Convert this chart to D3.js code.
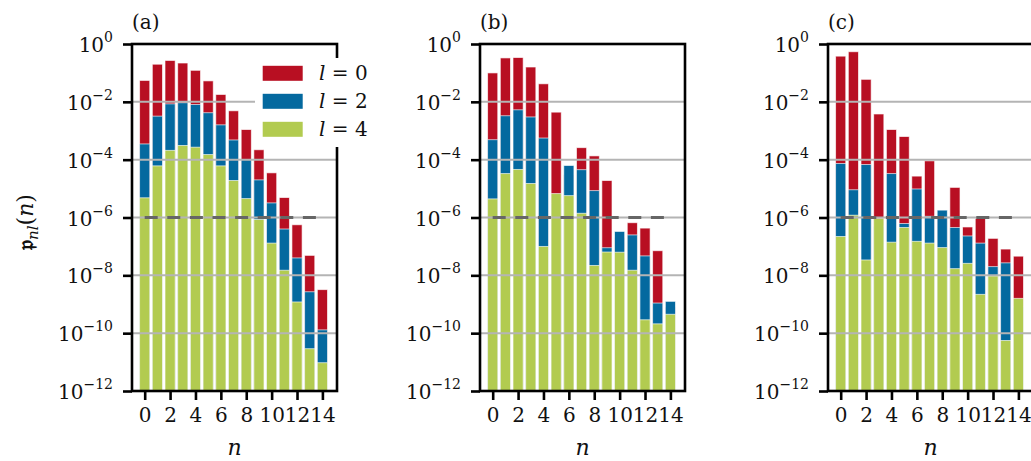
<!DOCTYPE html>
<html>
<head>
<meta charset="utf-8">
<script src="https://cdn.jsdelivr.net/npm/d3@7"></script>
<style>
  html, body { margin: 0; padding: 0; background: #fff; }
  svg { display: block; }
  svg text { font-family: "DejaVu Serif", "Liberation Serif", serif !important; fill: #111; }
</style>
</head>
<body>
<svg id="chart" width="1031" height="461"></svg>
<script>
// Occupation probabilities p_nl(n) for l = 0, 2, 4, three cases (a)-(c)
const nValues = d3.range(15);
const xTickValues = [0, 2, 4, 6, 8, 10, 12, 14];
const yTickExponents = [0, -2, -4, -6, -8, -10, -12];
const gridExponents = [-2, -4, -6, -8, -10];
const panelLabels = ["(a)", "(b)", "(c)"];
const threshold = 1e-6;
const legendLabels = ["0", "2", "4"];

const a_l0 = [5.5e-2, 0.20, 0.27, 0.22, 0.123, 5.3e-2, 1.8e-2, 4.9e-3, 1.1e-3, 2.2e-4, 3.5e-5, 4.9e-6, 5.6e-7, 4.9e-8, 3.2e-9];
const a_l2 = [3.5e-4, 3.2e-3, 8.5e-3, 9.3e-3, 8.1e-3, 4.2e-3, 1.6e-3, 4.8e-4, 1.0e-4, 2.0e-5, 3.2e-6, 4.0e-7, 4.0e-8, 2.7e-9, 1.3e-10];
const a_l4 = [4.8e-6, 6.1e-5, 2.1e-4, 3.1e-4, 2.7e-4, 1.5e-4, 6.1e-5, 1.9e-5, 4.5e-6, 8.5e-7, 1.3e-7, 1.5e-8, 1.2e-9, 2.9e-11, 9.5e-12];

const b_l0 = [0.10, 0.33, 0.34, 0.16, 4.2e-2, 4.4e-3, 3e-5, 2.6e-4, 1.35e-4, 1.9e-5, 2e-7, 6.6e-7, 4.3e-7, 7.1e-8, 8e-10];
const b_l2 = [4.9e-4, 3.3e-3, 5.3e-3, 3.0e-3, 5.6e-4, 3e-6, 6.3e-5, 4.5e-5, 8.5e-6, 9e-8, 3.3e-7, 2.5e-7, 4.7e-8, 1.1e-9, 1.26e-9];
const b_l4 = [4.4e-6, 3.3e-5, 4.6e-5, 1.5e-5, 1.0e-7, 6.7e-6, 5.7e-6, 1.4e-6, 2.2e-8, 6.4e-8, 6.3e-8, 1.5e-8, 2.9e-10, 2.1e-10, 4.5e-10];

const c_l0 = [0.38, 0.54, 6e-2, 3.8e-3, 1.1e-3, 6.3e-4, 2.7e-5, 9.1e-5, 1e-6, 1.1e-5, 4.7e-7, 9.2e-7, 1.9e-7, 8.1e-8, 4.6e-8];
const c_l2 = [7.4e-5, 9.1e-6, 6.8e-5, 5e-7, 3.3e-5, 6.2e-7, 9.7e-6, 1.1e-6, 1.8e-6, 4.5e-7, 2.3e-7, 1.3e-7, 2.0e-8, 2.7e-8, 8e-10];
const c_l4 = [2.2e-7, 1.2e-6, 3.4e-8, 9.2e-7, 1.4e-7, 4.5e-7, 1.5e-7, 1.3e-7, 9.1e-8, 1.7e-8, 2.6e-8, 2.2e-9, 9.5e-9, 5.6e-11, 1.6e-9];

const panels = [
  { label: panelLabels[0], series: [a_l0, a_l2, a_l4], legend: true },
  { label: panelLabels[1], series: [b_l0, b_l2, b_l4], legend: false },
  { label: panelLabels[2], series: [c_l0, c_l2, c_l4], legend: false }
];

const colors = ["#b80f22", "#04699f", "#b2cb50"];
const serif = "DejaVu Serif";

const svg = d3.select("#chart");
const fontSize = 20;
const panelLefts = [132, 480, 828];
const plotTop = 44, plotW = 205, plotH = 347;

const y = d3.scaleLog().domain([1e-12, 1]).range([plotTop + plotH, plotTop]);

panels.forEach((p, i) => {
  const left = panelLefts[i];
  const x = d3.scaleLinear().domain([-1, 15.15]).range([left, left + plotW]);
  const g = svg.append("g");

  const clipId = "clip" + i;
  svg.append("clipPath").attr("id", clipId)
    .append("rect").attr("x", left).attr("y", plotTop).attr("width", plotW).attr("height", plotH);

  const plot = g.append("g").attr("clip-path", `url(#${clipId})`);
  const barW = x(0.4) - x(-0.4);

  // overlaid bars: l=0 behind, l=4 in front
  p.series.forEach((vals, k) => {
    plot.append("g").selectAll("rect")
      .data(vals)
      .join("rect")
      .attr("x", (d, j) => x(nValues[j]) - barW / 2)
      .attr("y", d => y(d))
      .attr("width", barW)
      .attr("height", d => y(1e-12) - y(d) + 5)
      .attr("fill", colors[k])
      .attr("stroke", "#ffffff")
      .attr("stroke-opacity", 0.7)
      .attr("stroke-width", 0.9);
  });

  // horizontal grid
  plot.append("g").selectAll("line")
    .data(gridExponents)
    .join("line")
    .attr("x1", left).attr("x2", left + plotW)
    .attr("y1", e => y(Math.pow(10, e))).attr("y2", e => y(Math.pow(10, e)))
    .attr("stroke", "#b4b4b4")
    .attr("stroke-width", 2);

  // threshold line
  plot.append("line")
    .attr("x1", x(0)).attr("x2", x(14))
    .attr("y1", y(threshold)).attr("y2", y(threshold))
    .attr("stroke", "#666666")
    .attr("stroke-width", 3)
    .attr("stroke-dasharray", "13,9.6");

  // axes
  const yAxis = d3.axisLeft(y)
    .tickValues(yTickExponents.map(e => Math.pow(10, e)))
    .tickSize(9)
    .tickFormat("");
  const yg = g.append("g").attr("transform", `translate(${left},0)`).call(yAxis);
  yg.select(".domain").remove();
  yg.selectAll(".tick line").attr("stroke", "#000").attr("stroke-width", 2.6);

  const yLab = g.append("g").selectAll("text")
    .data(yTickExponents)
    .join("text")
    .attr("x", left - 19)
    .attr("y", e => y(Math.pow(10, e)) + 8)
    .attr("text-anchor", "end")
    .attr("font-family", serif)
    .attr("font-size", fontSize);
  yLab.append("tspan").text("10");
  yLab.append("tspan")
    .attr("dy", -10)
    .attr("font-size", 14)
    .text(e => e === 0 ? "0" : "\u2212" + Math.abs(e));

  const xAxis = d3.axisBottom(x)
    .tickValues(xTickValues)
    .tickSize(9)
    .tickPadding(8)
    .tickFormat(d3.format("d"));
  const xg = g.append("g").attr("transform", `translate(0,${plotTop + plotH})`).call(xAxis);
  xg.attr("font-family", serif);
  xg.select(".domain").remove();
  xg.selectAll(".tick line").attr("stroke", "#000").attr("stroke-width", 2.6);
  xg.selectAll(".tick text")
    .attr("font-size", fontSize)
    .attr("font-family", serif)
    .attr("fill", "#111");

  // frame
  g.append("rect")
    .attr("x", left).attr("y", plotTop)
    .attr("width", plotW).attr("height", plotH)
    .attr("fill", "none")
    .attr("stroke", "#000")
    .attr("stroke-width", 2.6);

  // panel label
  g.append("text")
    .attr("x", left)
    .attr("y", 29)
    .attr("font-family", serif)
    .attr("font-size", fontSize)
    .text(p.label);

  // x label
  g.append("text")
    .attr("x", left + plotW / 2)
    .attr("y", 455)
    .attr("text-anchor", "middle")
    .attr("font-family", serif)
    .attr("font-size", fontSize + 2)
    .attr("font-style", "italic")
    .text("n");

  if (p.legend) {
    const lg = g.append("g");
    lg.append("rect")
      .attr("x", 255).attr("y", 58)
      .attr("width", 118).attr("height", 89)
      .attr("fill", "#fff");
    const rows = lg.selectAll("g.row")
      .data(legendLabels)
      .join("g")
      .attr("class", "row")
      .attr("transform", (d, k) => `translate(0,${73.3 + k * 28})`);
    rows.append("rect")
      .attr("x", 262.7).attr("y", -7.5)
      .attr("width", 40).attr("height", 15)
      .attr("fill", (d, k) => colors[k]);
    const t = rows.append("text")
      .attr("x", 319)
      .attr("y", 7)
      .attr("font-family", serif)
      .attr("font-size", fontSize);
    t.append("tspan").attr("font-style", "italic").text("l");
    t.append("tspan").text(d => " = " + d);
  }
});

// shared y label
const yl = svg.append("text")
  .attr("transform", "translate(33,222) rotate(-90)")
  .attr("text-anchor", "middle")
  .attr("font-family", serif)
  .attr("font-size", fontSize + 2);
yl.append("tspan").attr("font-weight", "bold").text("\u{1D52D}");
yl.append("tspan").attr("font-style", "italic").attr("font-size", 15).attr("dy", 5).text("nl");
yl.append("tspan").attr("dy", -5).text("(");
yl.append("tspan").attr("font-style", "italic").text("n");
yl.append("tspan").text(")");
</script>
</body>
</html>
